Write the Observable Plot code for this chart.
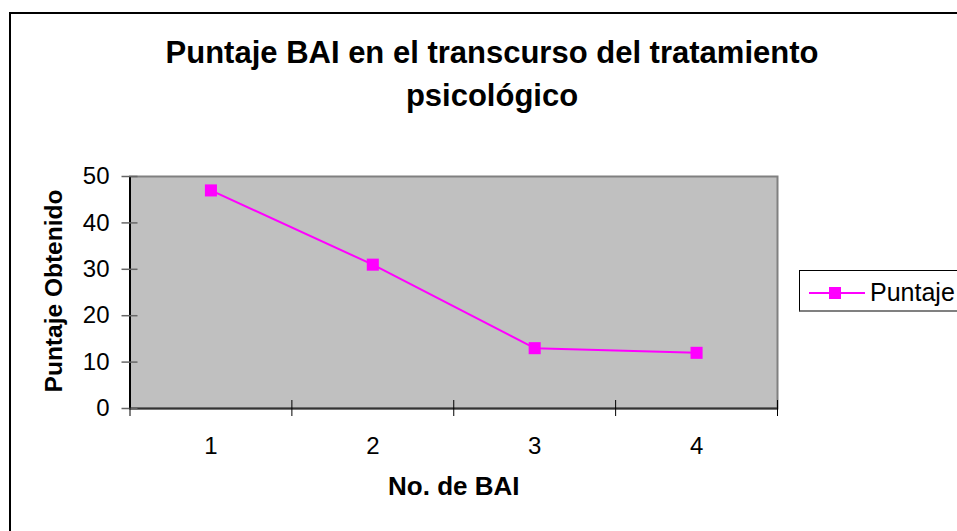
<!DOCTYPE html>
<html><head><meta charset="utf-8">
<script src="https://cdn.jsdelivr.net/npm/d3@7"></script>
<script src="https://cdn.jsdelivr.net/npm/@observablehq/plot@0.6"></script>
<style>
body{margin:0;width:957px;height:531px;overflow:hidden;background:#fff;font-family:Arial,"Liberation Sans",sans-serif;position:relative}
#frame{position:absolute;left:9px;top:12px;width:1000px;height:600px;border:2px solid #000;box-sizing:border-box}
#title{position:absolute;left:0;width:984px;top:31px;text-align:center;font-weight:bold;font-size:31px;line-height:43px;color:#000}
#chart{position:absolute;left:0;top:150px}
#ylabel{position:absolute;left:54px;top:290.5px;transform:translate(-50%,-50%) rotate(-90deg);white-space:nowrap;font-weight:bold;font-size:24.5px;line-height:1;color:#000}
#legend{position:absolute;left:799px;top:270px;width:200px;height:42px;border:1px solid #000;border-bottom:2px solid #808080;border-right:none;box-sizing:border-box;background:#fff}
#legend svg{position:absolute;left:8px;top:0}
#legend span{position:absolute;left:70px;top:0;line-height:42px;font-size:25px;color:#000}
</style></head>
<body>
<div id="frame"></div>
<div id="title">Puntaje BAI en el transcurso del tratamiento<br>psicológico</div>
<div id="chart"></div>
<div id="ylabel"></div>
<div id="legend"></div>
<script>
const categories = [1, 2, 3, 4];
const puntaje = [47, 31, 13, 12];
const yTicks = [0, 10, 20, 30, 40, 50];
const xTickLabels = ["1", "2", "3", "4"];
const xBoundaries = [0.5, 1.5, 2.5, 3.5, 4.5];
const seriesName = "Puntaje";
const yLabel = "Puntaje Obtenido";
const xLabel = "No. de BAI";

const data = categories.map((c, i) => ({bai: c, puntaje: puntaje[i]}));

const chart = Plot.plot({
  width: 957, height: 381,
  marginTop: 26, marginBottom: 123, marginLeft: 129.5, marginRight: 180,
  style: {fontFamily: "Arial, 'Liberation Sans', sans-serif", fontSize: "24px", color: "#000", background: "transparent", overflow: "visible"},
  x: {domain: [0.5, 4.5], axis: null},
  y: {domain: [0, 50], axis: null},
  marks: [
    Plot.frame({fill: "#c0c0c0", stroke: null}),
    Plot.frame({stroke: "#808080", strokeWidth: 2}),
    Plot.ruleX([0.5], {stroke: "#000", strokeWidth: 2}),
    Plot.ruleY([0], {stroke: "#333", strokeWidth: 2}),
    Plot.ruleY(yTicks, {y: d => d, x1: 0.5, x2: 0.5, insetLeft: 8, insetRight: 8, stroke: "#666", strokeWidth: 1.5}),
    Plot.ruleX(xBoundaries, {x: d => d, y1: 0, y2: 0, insetTop: 8, insetBottom: 8, stroke: "#000", strokeWidth: 1}),
    Plot.text(yTicks, {x: 0.5, y: d => d, text: d => String(d), textAnchor: "end", dx: -20.5, fontSize: 24}),
    Plot.text(categories, {x: d => d, y: 0, text: (d, i) => xTickLabels[i], dy: 38, fontSize: 24}),
    Plot.line(data, {x: "bai", y: "puntaje", stroke: "#ff00ff", strokeWidth: 2}),
    Plot.dot(data, {x: "bai", y: "puntaje", symbol: "square", r: 6.8, fill: "#ff00ff", stroke: null}),
    Plot.text([xLabel], {frameAnchor: "bottom", dy: 86, fontWeight: "bold", fontSize: 26})
  ]
});
document.getElementById("chart").appendChild(chart);
document.getElementById("ylabel").textContent = yLabel;

const legend = document.getElementById("legend");
legend.innerHTML = `<svg width="60" height="40"><line x1="1" y1="22" x2="57" y2="22" stroke="#ff00ff" stroke-width="2"/><rect x="21" y="16" width="12" height="12" fill="#ff00ff"/></svg><span>${seriesName}</span>`;
</script>
</body></html>
